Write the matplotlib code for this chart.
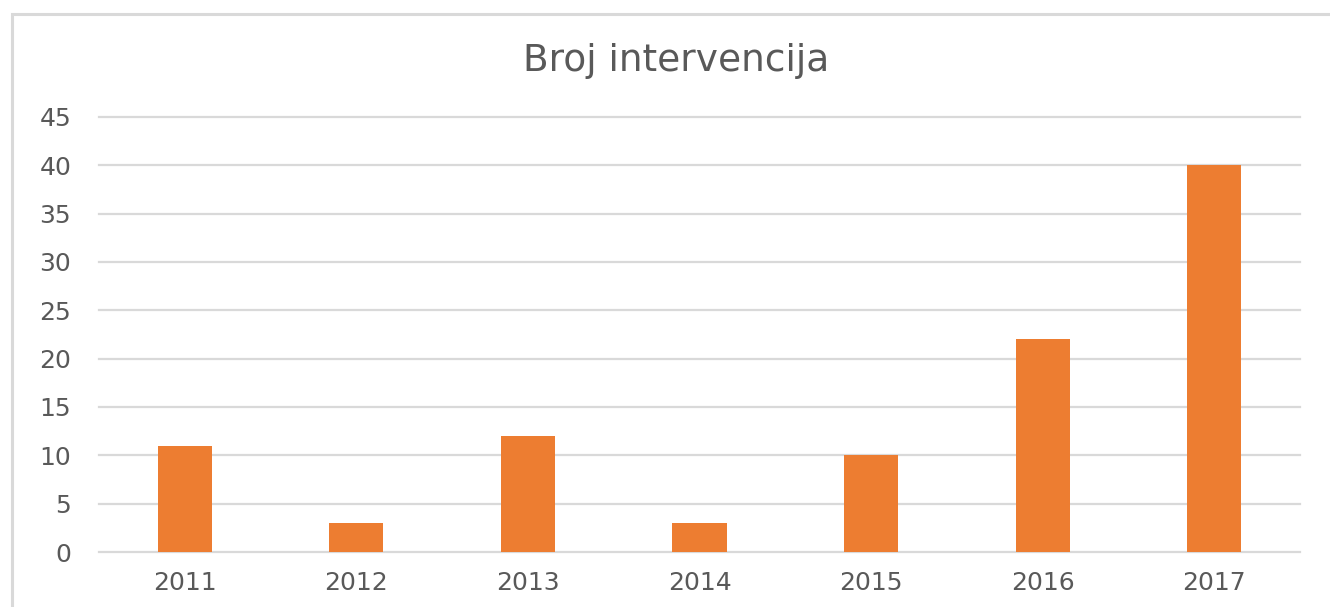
import matplotlib.pyplot as plt
import matplotlib.patches as patches
import numpy as np

years = ['2011', '2012', '2013', '2014', '2015', '2016', '2017']
counts = [11, 3, 12, 3, 10, 22, 40]

plt.rcParams['font.family'] = ['DejaVu Sans']

W, H = 1330, 607
fig = plt.figure(figsize=(W / 100, H / 100), dpi=100)
ax = fig.add_axes([99 / W, 55 / H, (1300 - 99) / W, (552 - 117) / H])

x = np.arange(len(years))
ax.bar(x, counts, width=0.315, color='#ED7D31', zorder=3)

ax.set_xlim(-0.5, len(years) - 0.5)
ax.set_ylim(0, 45)
ax.set_yticks(np.arange(0, 46, 5))
ax.set_xticks(x)
ax.set_xticklabels(years)

ax.grid(axis='y', color='#d9d9d9', linewidth=1.6, zorder=0)
for gl in ax.get_ygridlines():
    gl.set_clip_on(False)
for s in ax.spines.values():
    s.set_visible(False)
ax.tick_params(axis='both', length=0, labelsize=18, colors='#595959')
ax.tick_params(axis='y', pad=20)
ax.tick_params(axis='x', pad=14)

fig.text(676 / W, 1 - 61 / H, 'Broj intervencija', ha='center', va='center',
         fontsize=27, color='#595959')

# chart frame (only left and top edges fall inside the picture)
top = 1 - 13.5 / H
frame = patches.Rectangle((11.5 / W, -0.2), 1.5, top + 0.2,
                          transform=fig.transFigure, fill=False,
                          edgecolor='#d9d9d9', linewidth=2.2)
fig.patches.append(frame)

fig.savefig('out.png', dpi=100)
